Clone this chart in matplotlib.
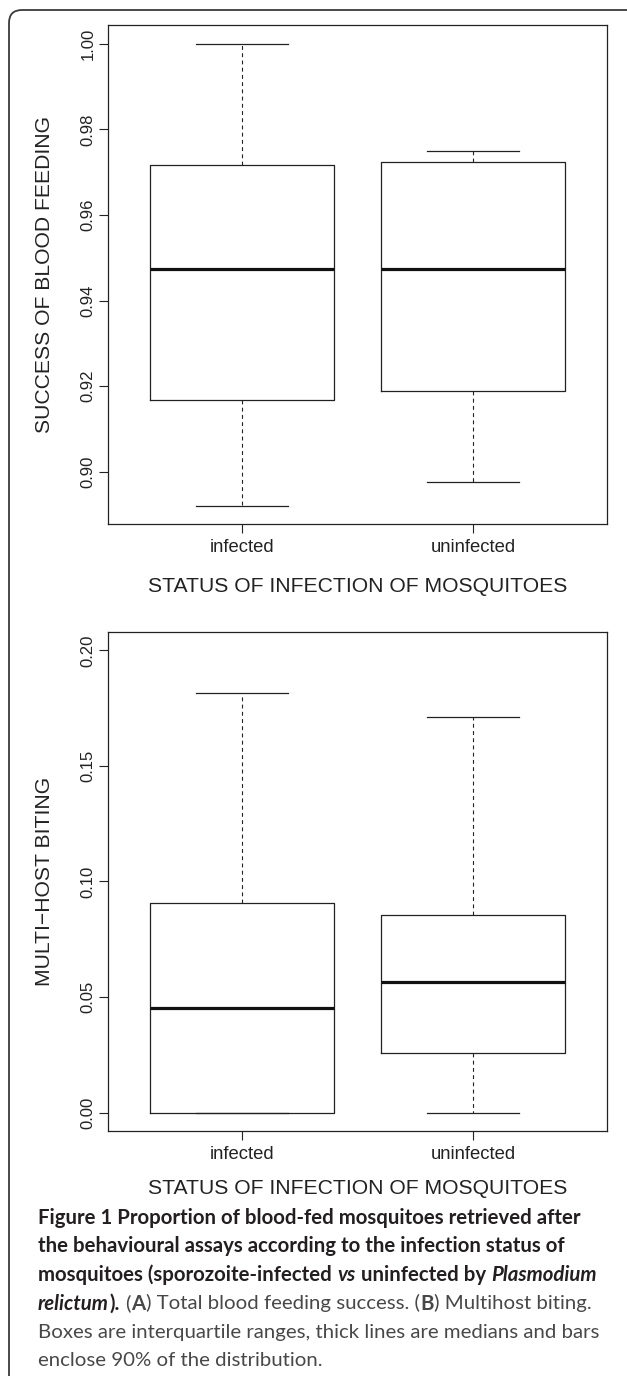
import matplotlib
matplotlib.use('Agg')
import matplotlib.pyplot as plt
from matplotlib.patches import FancyBboxPatch

groups = ['infected', 'uninfected']

# A: success of blood feeding (whisker low, Q1, median, Q3, whisker high)
feed_lo = [0.8921, 0.8975]
feed_q1 = [0.9167, 0.9189]
feed_med = [0.9475, 0.9474]
feed_q3 = [0.9716, 0.9723]
feed_hi = [1.000, 0.9750]
feed_ticks = [0.90, 0.92, 0.94, 0.96, 0.98, 1.00]

# B: multi-host biting
multi_lo = [0.0, 0.0]
multi_q1 = [0.0, 0.0258]
multi_med = [0.0452, 0.0563]
multi_q3 = [0.0909, 0.0857]
multi_hi = [0.1818, 0.1714]
multi_ticks = [0.00, 0.05, 0.10, 0.15, 0.20]

W, H = 627, 1376
plt.rcParams['font.family'] = ['Liberation Sans', 'DejaVu Sans']
fig = plt.figure(figsize=(W / 100, H / 100), dpi=100)

# background axes in pixel units for frame, labels and caption
bg = fig.add_axes([0, 0, 1, 1])
bg.set_xlim(0, W)
bg.set_ylim(H, 0)
bg.axis('off')
bg.add_patch(FancyBboxPatch((9, 10), 700, 1500, boxstyle='round,pad=0,rounding_size=13',
                            fill=False, ec='#3a3a3a', lw=1.3))

ink = '#222222'


def panel(top, bottom, lo, q1, med, q3, hi, ticks, ylim, letter, ylab, xlab_y):
    ax = fig.add_axes([108 / W, 1 - bottom / H, (607 - 108) / W, (bottom - top) / H])
    stats = [dict(whislo=lo[i], q1=q1[i], med=med[i], q3=q3[i], whishi=hi[i], fliers=[])
             for i in range(len(groups))]
    ax.bxp(stats, positions=[1, 2], widths=0.8, capwidths=0.4, showfliers=False,
           boxprops=dict(color=ink, lw=0.9),
           whiskerprops=dict(color=ink, lw=0.8, linestyle=(0, (3.5, 3))),
           capprops=dict(color=ink, lw=0.9),
           medianprops=dict(color='#111111', lw=2.3))
    ax.set_xlim(0.42, 2.58)
    ax.set_ylim(*ylim)
    ax.set_xticks([1, 2])
    ax.set_xticklabels(groups, fontsize=13.3)
    ax.set_yticks(ticks)
    ax.set_yticklabels(['%.2f' % t for t in ticks], fontsize=12, rotation=90, va='center')
    ax.tick_params(direction='out', length=6.5, width=0.8, color=ink, labelcolor=ink)
    ax.tick_params(axis='x', pad=4.5)
    ax.tick_params(axis='y', pad=2.5)
    for s in ax.spines.values():
        s.set_linewidth(0.9)
        s.set_color(ink)
    bg.text(123, top + 30, letter, fontsize=21, color=ink, ha='left', va='baseline')
    bg.text(45, (top + bottom) / 2, ylab, fontsize=15.2, color=ink, rotation=90,
            ha='center', va='center')
    bg.text(357.5, xlab_y, 'STATUS OF INFECTION OF MOSQUITOES', fontsize=15.2, color=ink,
            ha='center', va='center')
    return ax


panel(25, 524, feed_lo, feed_q1, feed_med, feed_q3, feed_hi, feed_ticks,
      (0.8878, 1.0044), 'A', 'SUCCESS OF BLOOD FEEDING', 586)
panel(632, 1131, multi_lo, multi_q1, multi_med, multi_q3, multi_hi, multi_ticks,
      (-0.008, 0.208), 'B', 'MULTI\u2212HOST BITING', 1189)

# caption, drawn piece by piece for mixed styles
cap_font = ['Lato', 'DejaVu Sans']
cap_size = 14.7
dark = '#231f20'
grey = '#484848'
B, BI, R, RB = ('bold', 'normal', dark), ('bold', 'italic', dark), ('normal', 'normal', grey), ('bold', 'normal', grey)
caption = [
    [('Figure 1 Proportion of blood-fed mosquitoes retrieved after', B)],
    [('the behavioural assays according to the infection status of', B)],
    [('mosquitoes (sporozoite-infected ', B), ('vs', BI), (' uninfected by ', B), ('Plasmodium', BI)],
    [('relictum', BI), ('). ', B), ('(', R), ('A', RB), (') Total blood feeding success. (', R),
     ('B', RB), (') Multihost biting.', R)],
    [('Boxes are interquartile ranges, thick lines are medians and bars', R)],
    [('enclose 90% of the distribution.', R)],
]
baselines = [1224, 1252.5, 1281, 1309.5, 1338, 1366]

renderer = fig.canvas.get_renderer()


def width_of(s, weight, style):
    t = bg.text(0, 0, s, family=cap_font, fontsize=cap_size, fontweight=weight, fontstyle=style)
    w = t.get_window_extent(renderer).width
    t.remove()
    return w


for parts, yb in zip(caption, baselines):
    x = 38
    for s, (weight, style, col) in parts:
        sp = width_of('x x', weight, style) - width_of('xx', weight, style)
        lead = len(s) - len(s.lstrip(' '))
        trail = len(s) - len(s.rstrip(' '))
        x += lead * sp
        core = s.strip(' ')
        t = bg.text(x, yb, core, family=cap_font, fontsize=cap_size, fontweight=weight,
                    fontstyle=style, color=col, ha='left', va='baseline')
        x += t.get_window_extent(renderer).width + trail * sp + 0.5

fig.savefig('out.png', dpi=100)
